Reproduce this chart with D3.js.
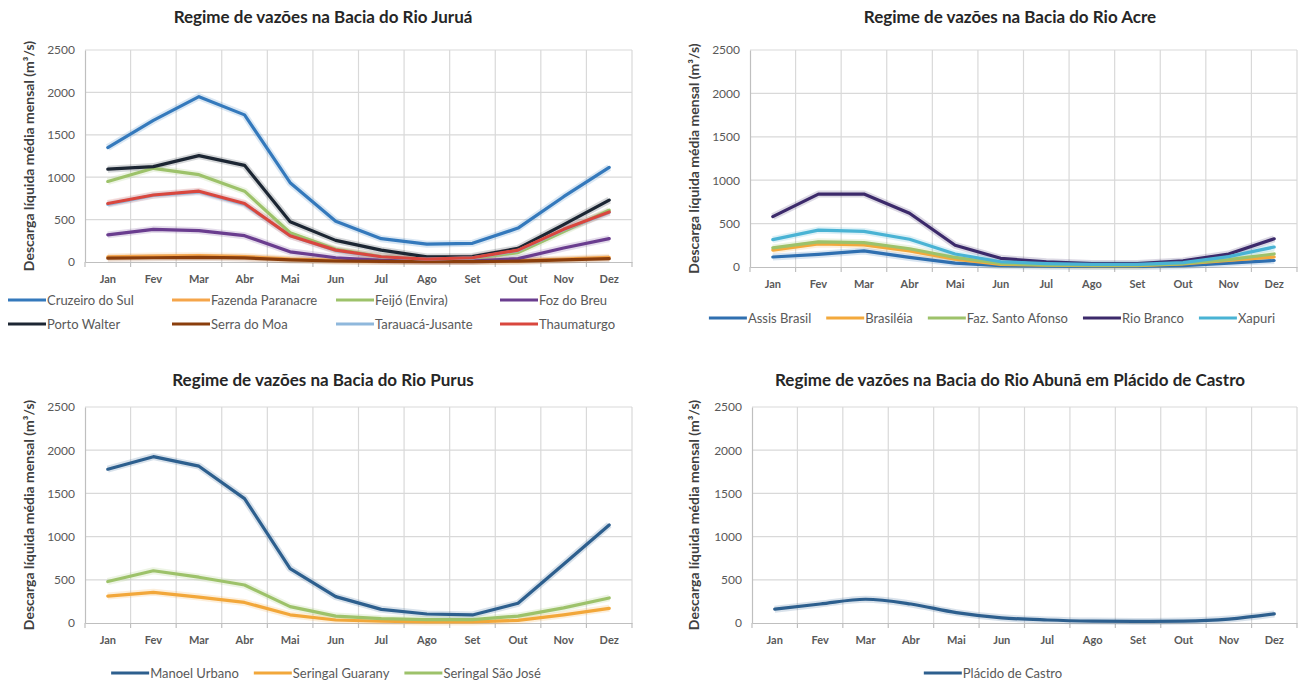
<!DOCTYPE html>
<html><head><meta charset="utf-8">
<script src="https://cdn.jsdelivr.net/npm/d3@7"></script>
<style>body{margin:0;background:#fff} svg{display:block}</style>
</head><body>
<svg id="c" width="1303" height="685"></svg>
<script>
// ---------- data ----------
const months = ["Jan","Fev","Mar","Abr","Mai","Jun","Jul","Ago","Set","Out","Nov","Dez"];
const yTicks = [0, 500, 1000, 1500, 2000, 2500];

// Bacia do Rio Juruá
const juruaNames = ["Cruzeiro do Sul","Fazenda Paranacre","Feijó (Envira)","Foz do Breu","Porto Walter","Serra do Moa","Tarauacá-Jusante","Thaumaturgo"];
const cruzeiroDoSul   = [1350,1670,1950,1735,935,480,275,210,220,400,770,1115];
const fazendaParanacre= [60,70,75,65,35,18,10,6,6,14,35,55];
const feijoEnvira     = [950,1105,1030,835,345,150,65,35,45,110,360,610];
const fozDoBreu       = [320,385,370,310,120,50,20,12,12,40,165,275];
const portoWalter     = [1095,1125,1255,1140,475,255,140,60,65,160,440,730];
const serraDoMoa      = [45,50,55,48,25,12,8,5,5,10,25,40];
const tarauacaJusante = [680,785,825,680,310,135,60,35,48,135,380,585];
const thaumaturgo     = [690,790,835,690,310,140,62,35,50,140,385,590];

// Bacia do Rio Acre
const acreNames = ["Assis Brasil","Brasiléia","Faz. Santo Afonso","Rio Branco","Xapuri"];
const assisBrasil     = [115,145,185,110,45,15,10,6,6,15,45,75];
const brasileia       = [195,265,255,185,90,30,20,15,15,35,75,115];
const fazSantoAfonso  = [220,290,280,210,110,40,25,20,20,40,85,150];
const rioBranco       = [580,840,840,620,250,100,60,40,40,70,150,325];
const xapuri          = [315,425,410,320,150,60,40,30,30,50,120,230];

// Bacia do Rio Purus
const purusNames = ["Manoel Urbano","Seringal Guarany","Seringal São José"];
const manoelUrbano    = [1780,1925,1815,1440,630,305,158,104,93,228,680,1135];
const seringalGuarany = [312,355,300,238,95,35,20,12,12,30,95,170];
const seringalSaoJose = [480,605,530,440,190,80,50,40,40,80,175,290];

// Bacia do Rio Abunã
const abunaNames = ["Plácido de Castro"];
const placidoDeCastro = [160,220,275,220,120,60,35,22,18,22,45,105];

// ---------- drawing ----------
const FONT = "Lato, 'Open Sans', sans-serif";
const svg = d3.select("#c");

function drawChart(opt) {
  const g = svg.append("g");
  const x = d3.scaleBand().domain(months).range([opt.left, opt.right]);
  const y = d3.scaleLinear().domain([0, 2500]).range([opt.bottom, opt.top]);

  // title
  g.append("text").attr("x", opt.titleX).attr("y", opt.titleY)
    .attr("text-anchor", "middle").attr("font-family", FONT)
    .attr("font-weight", "bold").attr("font-size", 17).attr("fill", "#262626")
    .text(opt.title);

  // horizontal gridlines
  g.append("g").selectAll("line").data(yTicks.filter(d => d > 0)).join("line")
    .attr("x1", opt.left).attr("x2", opt.right)
    .attr("y1", d => y(d)).attr("y2", d => y(d))
    .attr("stroke", "#d9d9d9").attr("stroke-width", 1.2);

  // vertical gridlines (category boundaries)
  const bounds = months.map(m => x(m)).concat([opt.right]);
  g.append("g").selectAll("line").data(bounds.slice(1)).join("line")
    .attr("x1", d => d).attr("x2", d => d)
    .attr("y1", opt.top).attr("y2", opt.bottom)
    .attr("stroke", "#d9d9d9").attr("stroke-width", 1.2);

  // y axis
  const yAxis = d3.axisLeft(y).tickValues(yTicks).tickFormat(d3.format("d")).tickSize(0).tickPadding(10);
  const ya = g.append("g").attr("transform", `translate(${opt.left},0)`).call(yAxis);
  ya.select(".domain").attr("stroke", "#bfbfbf").attr("stroke-width", 1.2);
  ya.selectAll("text").attr("font-family", FONT).attr("font-size", 12).attr("fill", "#595959");

  // x axis
  const xa = g.append("g").attr("transform", `translate(0,${opt.bottom})`)
    .call(d3.axisBottom(x).tickSize(0).tickPadding(13));
  xa.select(".domain").attr("stroke", "#bfbfbf").attr("stroke-width", 1.2);
  xa.selectAll("text").attr("font-family", FONT).attr("font-size", 11)
    .attr("font-weight", "bold").attr("fill", "#595959");
  xa.append("g").selectAll("line").data(bounds).join("line")
    .attr("x1", d => d).attr("x2", d => d).attr("y1", 0).attr("y2", 5)
    .attr("stroke", "#bfbfbf").attr("stroke-width", 1.2);

  // y-axis title
  g.append("text")
    .attr("transform", `translate(${opt.yTitleX},${(opt.top + opt.bottom) / 2}) rotate(-90)`)
    .attr("text-anchor", "middle").attr("font-family", FONT)
    .attr("font-weight", "bold").attr("font-size", 14).attr("fill", "#404040")
    .text("Descarga líquida média mensal (m³/s)");

  // lines
  const line = d3.line()
    .x((d, i) => x(months[i]) + x.bandwidth() / 2)
    .y(d => y(d))
    .curve(opt.curve || d3.curveLinear);
  opt.series.forEach((s, i) => {
    g.append("path").attr("d", line(s)).attr("fill", "none")
      .attr("stroke", opt.colors[i]).attr("stroke-opacity", 0.18)
      .attr("stroke-width", 7).attr("stroke-linejoin", "round");
  });
  opt.series.forEach((s, i) => {
    g.append("path").attr("d", line(s)).attr("fill", "none")
      .attr("stroke", opt.colors[i]).attr("stroke-width", 3.2)
      .attr("stroke-linejoin", "round").attr("stroke-linecap", "round");
  });

  // legend
  const lg = g.append("g");
  const items = opt.names.map((n, i) => {
    const it = lg.append("g");
    it.append("line").attr("x1", 0).attr("x2", 38).attr("y1", 0).attr("y2", 0)
      .attr("stroke", opt.colors[i]).attr("stroke-width", 3.2);
    const t = it.append("text").attr("x", 39).attr("y", 4.5).attr("font-family", FONT)
      .attr("font-size", 13).attr("fill", "#595959").text(n);
    return { it, w: 39 + t.node().getComputedTextLength() };
  });
  if (opt.legendCols) {
    items.forEach((d, i) => {
      const c = i % opt.legendCols, r = Math.floor(i / opt.legendCols);
      d.it.attr("transform", `translate(${opt.legendX + c * opt.legendColW},${opt.legendY + r * opt.legendRowH})`);
    });
  } else {
    const gap = 15;
    const total = d3.sum(items, d => d.w) + gap * (items.length - 1);
    let cx = opt.legendCenter - total / 2;
    items.forEach(d => {
      d.it.attr("transform", `translate(${cx},${opt.legendY})`);
      cx += d.w + gap;
    });
  }
}

drawChart({
  title: "Regime de vazões na Bacia do Rio Juruá", titleX: 323, titleY: 23,
  left: 85, right: 632, top: 50, bottom: 262, yTitleX: 34,
  names: juruaNames,
  series: [cruzeiroDoSul, fazendaParanacre, feijoEnvira, fozDoBreu, portoWalter, serraDoMoa, tarauacaJusante, thaumaturgo],
  colors: ["#3479bc", "#f5a54a", "#9dc26a", "#6a3d8f", "#1c2633", "#8a3e0c", "#8fb8dc", "#d9473e"],
  legendCols: 4, legendX: 8, legendColW: 164, legendY: 300, legendRowH: 24
});

drawChart({
  title: "Regime de vazões na Bacia do Rio Acre", titleX: 1010, titleY: 23,
  left: 750, right: 1297, top: 50, bottom: 267, yTitleX: 699,
  names: acreNames,
  series: [assisBrasil, brasileia, fazSantoAfonso, rioBranco, xapuri],
  colors: ["#2f6fb0", "#f3a93c", "#9dc26a", "#3c2a6b", "#49b3d4"],
  legendY: 318, legendCenter: 992
});

drawChart({
  title: "Regime de vazões na Bacia do Rio Purus", titleX: 323, titleY: 386,
  left: 85, right: 632, top: 407, bottom: 623, yTitleX: 34,
  names: purusNames,
  series: [manoelUrbano, seringalGuarany, seringalSaoJose],
  colors: ["#2d5f8e", "#f2a73a", "#9dc26a"],
  legendY: 673, legendCenter: 326
});

drawChart({
  title: "Regime de vazões na Bacia do Rio Abunã em Plácido de Castro", titleX: 1010, titleY: 386,
  left: 752, right: 1297, top: 407, bottom: 623, yTitleX: 699,
  names: abunaNames,
  series: [placidoDeCastro],
  colors: ["#2d5f8e"],
  curve: d3.curveMonotoneX,
  legendY: 673, legendCenter: 993
});
</script>
</body></html>
